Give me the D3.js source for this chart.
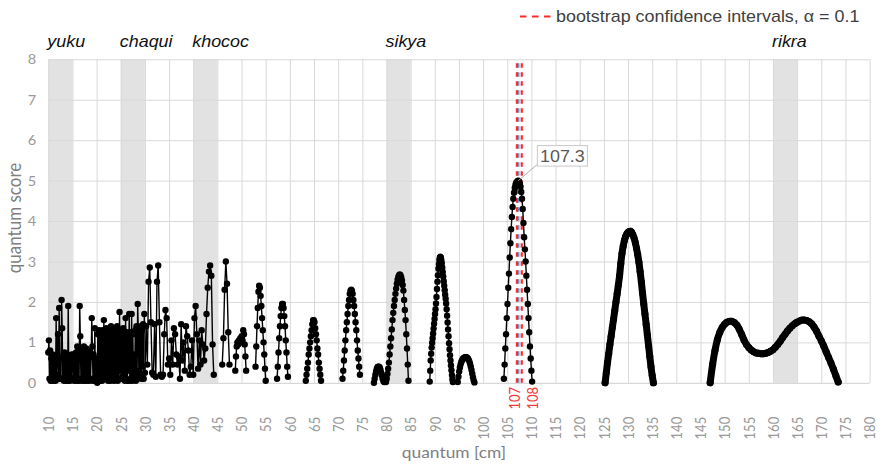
<!DOCTYPE html>
<html>
<head>
<meta charset="utf-8">
<script src="https://cdn.jsdelivr.net/npm/d3@7"></script>
<style>
  body { margin: 0; background: #fff; }
  svg { display: block; }
</style>
</head>
<body>
<svg id="chart" width="883" height="467"></svg>
<script>
// ---- axis ticks ----
const quantumTicks = [10, 15, 20, 25, 30, 35, 40, 45, 50, 55, 60, 65, 70, 75, 80, 85, 90,
                      95, 100, 105, 110, 115, 120, 125, 130, 135, 140, 145, 150, 155, 160,
                      165, 170, 175, 180];
const scoreTicks = [0, 1, 2, 3, 4, 5, 6, 7, 8];

// ---- named quantum ranges (shaded bands) ----
const rangeNames = ["yuku", "chaqui", "khococ", "sikya", "rikra"];
const rangeFrom = [10, 25, 40, 80, 160];
const rangeTo = [15, 30, 45, 85, 165];

// ---- bootstrap confidence interval of the best quantum ----
const ciBounds = [107, 108];
const peakQuantum = 107.3;

// ---- quantum score runs: first quantum, sampling interval, scores ----
const runStart = [10.0, 30.0, 46.0, 48.7, 52.9, 57.35, 63.3, 70.9, 77.4, 79.9, 88.95, 94.75, 104.3, 125.25, 147.0];
const runStep  = [0.125, 0.25, 0.25, 0.15, 0.15, 0.15, 0.15, 0.15, 0.15, 0.15, 0.1, 0.15, 0.15, 0.25, 0.5];

// 10 – 30 cm, one row per centimetre
const scores10 = [
  0.75, 1.05, 0.1, 0.8, 0.05, 0.6, 0.1, 0.7,
  0.05, 0.65, 0.15, 0.55, 0.05, 1.6, 0.2, 0.7,
  1.2, 0.1, 1.85, 0.1, 0.6, 0.1, 2.05, 1.35,
  0.1, 0.65, 0.05, 0.75, 0.1, 0.6, 0.05, 0.7,
  0.05, 1.9, 0.1, 0.65, 0.05, 0.6, 0.1, 0.7,
  0.6, 0.1, 0.7, 0.05, 0.65, 0.15, 0.75, 0.05,
  0.9, 0.1, 0.8, 0.05, 1.9, 1.15, 0.1, 0.85,
  0.05, 0.8, 0.1, 0.9, 0.05, 0.75, 0.1, 0.85,
  0.05, 0.75, 0.1, 0.8, 0.05, 0.7, 0.1, 0.65,
  1.6, 0.9, 0.05, 0.7, 0.1, 1.35, 0.05, 0.6,
  0.3, 0.0, 1.2, 0.1, 1.3, 0.05, 1.15, 0.1,
  1.2, 0.05, 1.3, 0.1, 1.55, 0.1, 1.25, 0.15,
  1.35, 0.1, 1.2, 0.05, 1.3, 0.1, 1.25, 0.05,
  1.4, 0.15, 1.3, 0.1, 1.2, 0.05, 1.35, 0.1,
  1.2, 0.25, 1.4, 0.05, 1.25, 0.1, 1.75, 0.3,
  1.3, 0.1, 1.2, 0.15, 1.35, 0.2, 1.25, 0.05,
  1.6, 0.1, 1.25, 0.05, 1.2, 0.3, 1.7, 0.05,
  1.25, 0.1, 1.7, 0.05, 1.2, 0.15, 0.7, 0.1,
  1.3, 0.05, 1.4, 0.1, 1.95, 1.3, 0.3, 1.25,
  0.2, 1.4, 0.1, 1.3, 0.4, 1.45, 0.1, 1.7
];
// 30 – 44.25 cm, two centimetres per row
const scores30 = [
  0.25, 1.4, 0.45, 2.5, 2.85, 1.5, 0.25, 0.2,
  1.45, 0.15, 2.5, 2.9, 1.5, 0.2, 0.15, 0.2,
  1.2, 1.8, 1.6, 0.45, 0.6, 0.2, 1.05, 0.45,
  1.35, 1.2, 0.7, 0.45, 0.65, 0.1, 1.45, 0.55,
  1.0, 0.3, 1.4, 1.15, 0.8, 0.2, 0.4, 1.05,
  0.2, 1.6, 1.9, 1.2, 0.35, 1.05, 0.45, 1.3,
  0.95, 0.55, 0.85, 1.7, 2.35, 2.75, 2.9, 2.65,
  0.95, 0.2
];
const scores47 = [0.45, 1.1, 2.3, 3.0, 2.45, 1.25, 0.45];
const scores50 = [0.3, 0.65, 0.9, 1.0, 0.95, 1.05, 1.0, 1.1, 1.0, 1.15, 1.05, 1.3, 1.2, 0.95, 0.65, 0.3];
const scores54 = [0.4, 0.9, 1.4, 1.85, 2.25, 2.4, 2.35, 2.15, 1.9, 1.6, 1.3, 1.0, 0.7, 0.35, 0.05];
const scores59 = [0.1, 0.4, 0.75, 1.1, 1.4, 1.65, 1.85, 1.95, 1.95, 1.85, 1.65, 1.4, 1.05, 0.75, 0.4, 0.15];
const scores65 = [0.05, 0.2, 0.35, 0.5, 0.7, 0.85, 1.0, 1.15, 1.3, 1.45, 1.55, 1.55, 1.5, 1.35, 1.2,
                  1.05, 0.85, 0.7, 0.5, 0.35, 0.2, 0.05];
const scores73 = [0.1, 0.3, 0.55, 0.8, 1.05, 1.3, 1.5, 1.7, 1.9, 2.05, 2.2, 2.28, 2.3, 2.28, 2.2,
                  2.05, 1.9, 1.7, 1.5, 1.3, 1.05, 0.8, 0.6, 0.4, 0.2];
const scores79 = [0.0, 0.1, 0.2, 0.28, 0.35, 0.39, 0.4, 0.4, 0.38, 0.33, 0.25, 0.18, 0.1, 0.05, 0.02];
const scores83 = [0.02, 0.1, 0.22, 0.35, 0.5, 0.7, 0.9, 1.1, 1.32, 1.55, 1.73, 1.9, 2.05, 2.2, 2.33,
                  2.45, 2.55, 2.62, 2.66, 2.68, 2.66, 2.61, 2.53, 2.42, 2.28, 2.05, 1.8, 1.55, 1.2,
                  0.85, 0.45, 0.05];
const scores91 = [0.03, 0.3, 0.55, 0.72, 0.87, 0.99, 1.1, 1.22, 1.34, 1.46, 1.58, 1.7, 1.82, 1.96,
                  2.12, 2.32, 2.5, 2.66, 2.82, 2.94, 3.04, 3.1, 3.12, 3.1, 3.04, 2.96, 2.85, 2.74,
                  2.63, 2.51, 2.4, 2.29, 2.18, 2.08, 1.96, 1.82, 1.66, 1.49, 1.32, 1.15, 0.98, 0.83,
                  0.68, 0.55, 0.43, 0.31, 0.19, 0.09, 0.02];
const scores97 = [0.02, 0.15, 0.28, 0.38, 0.46, 0.52, 0.56, 0.59, 0.61, 0.62, 0.63, 0.63, 0.63, 0.62,
                  0.6, 0.57, 0.53, 0.47, 0.4, 0.32, 0.23, 0.14, 0.06, 0.01];
const scores107 = [0.1, 0.45, 0.85, 1.2, 1.6, 1.95, 2.35, 2.7, 3.1, 3.45, 3.8, 4.1, 4.35, 4.55, 4.7,
                   4.82, 4.9, 4.95, 4.97, 4.99, 5.0, 4.98, 4.93, 4.85, 4.72, 4.55, 4.3, 3.95, 3.6,
                   3.3, 3.0, 2.65, 2.3, 1.95, 1.6, 1.25, 0.9, 0.6, 0.3, 0.03];
const scores130 = [0.0, 0.25, 0.5, 0.72, 0.95, 1.15, 1.37, 1.57, 1.78, 2.0, 2.2, 2.42, 2.65, 2.95,
                   3.2, 3.38, 3.52, 3.62, 3.68, 3.72, 3.74, 3.75, 3.72, 3.66, 3.58, 3.47, 3.33,
                   3.17, 2.98, 2.75, 2.5, 2.22, 1.95, 1.7, 1.45, 1.18, 0.92, 0.65, 0.4, 0.18, 0.0];
const scores160 = [0.0, 0.45, 0.8, 1.07, 1.25, 1.37, 1.45, 1.5, 1.52, 1.52, 1.49, 1.43, 1.33, 1.2,
                   1.06, 0.95, 0.87, 0.81, 0.77, 0.74, 0.73, 0.72, 0.72, 0.73, 0.75, 0.78, 0.82,
                   0.88, 0.95, 1.03, 1.12, 1.2, 1.28, 1.35, 1.41, 1.46, 1.5, 1.53, 1.55, 1.55,
                   1.54, 1.51, 1.46, 1.38, 1.28, 1.16, 1.04, 0.91, 0.77, 0.63, 0.49, 0.34, 0.18, 0.02];

const runScores = [scores10, scores30, scores47, scores50, scores54, scores59, scores65, scores73,
                   scores79, scores83, scores91, scores97, scores107, scores130, scores160];

// ---- layout ----
const svg = d3.select("#chart");
const x = d3.scaleLinear().domain([10, 180]).range([48.3, 869.6]);
const y = d3.scaleLinear().domain([0, 8]).range([382.8, 59.3]);
const plotW = x(180) - x(10);
const plotH = y(0) - y(8);
const STRETCH = 1.12;            // text is drawn slightly wide
const tickFont = "Lato, 'Open Sans', sans-serif";
const labelFont = "'Liberation Sans', Arial, sans-serif";

function place(px, py, rot) {
  return `translate(${px},${py}) scale(${STRETCH},1)` + (rot ? ` rotate(${rot})` : "");
}

// shaded ranges
svg.append("g").selectAll("rect")
  .data(rangeNames)
  .join("rect")
  .attr("x", (d, i) => x(rangeFrom[i]))
  .attr("y", y(8))
  .attr("width", (d, i) => x(rangeTo[i]) - x(rangeFrom[i]))
  .attr("height", plotH)
  .attr("fill", "#e2e2e2");

// grid
const gx = svg.append("g")
  .attr("transform", `translate(0,${y(0)})`)
  .call(d3.axisBottom(x).tickValues(quantumTicks).tickSize(-plotH).tickFormat(""));
gx.select(".domain").remove();
gx.selectAll("line").attr("stroke", "#d9d9d9").attr("stroke-width", 1);

const gy = svg.append("g")
  .attr("transform", `translate(${x(10)},0)`)
  .call(d3.axisLeft(y).tickValues(scoreTicks).tickSize(-plotW).tickFormat(""));
gy.select(".domain").remove();
gy.selectAll("line").attr("stroke", (d) => d === 0 ? "#cfcfcf" : "#d9d9d9").attr("stroke-width", 1);

// x tick labels (rotated)
const xl = svg.append("g")
  .attr("transform", `translate(0,${y(0)})`)
  .call(d3.axisBottom(x).tickValues(quantumTicks).tickSize(0).tickFormat(d3.format("d")));
xl.select(".domain").remove();
xl.selectAll("text")
  .attr("x", null).attr("y", null).attr("dy", "0.36em")
  .attr("transform", place(0, 34, -90))
  .attr("text-anchor", "end")
  .attr("font-family", tickFont)
  .attr("font-size", 13)
  .attr("fill", "#9a9a9a");

// y tick labels
const yl = svg.append("g")
  .attr("transform", `translate(${x(10)},0)`)
  .call(d3.axisLeft(y).tickValues(scoreTicks).tickSize(0).tickFormat(d3.format("d")));
yl.select(".domain").remove();
yl.selectAll("text")
  .attr("x", null).attr("dy", "0.35em")
  .attr("transform", place(-12, 0))
  .attr("text-anchor", "end")
  .attr("font-family", tickFont)
  .attr("font-size", 13)
  .attr("fill", "#9a9a9a");

// confidence interval and best-quantum lines
svg.append("line")
  .attr("x1", x(peakQuantum)).attr("x2", x(peakQuantum))
  .attr("y1", y(0)).attr("y2", y(8))
  .attr("stroke", "#5b9bd5").attr("stroke-width", 2.2)
  .attr("stroke-dasharray", "4.5,4.5");
svg.append("g").selectAll("line")
  .data(ciBounds)
  .join("line")
  .attr("x1", (d) => x(d)).attr("x2", (d) => x(d))
  .attr("y1", y(0)).attr("y2", y(8))
  .attr("stroke", "#ff2a2a").attr("stroke-width", 2.2)
  .attr("stroke-dasharray", "4.5,4.5");

// score runs
const runs = runScores.map((scores, i) => ({
  smooth: runStart[i] > 120,
  points: scores.map((s, k) => ({ q: runStart[i] + k * runStep[i], s }))
}));
const line = d3.line().x((d) => x(d.q)).y((d) => y(d.s));
const smoothLine = d3.line().x((d) => x(d.q)).y((d) => y(d.s)).curve(d3.curveCatmullRom);

const gRuns = svg.append("g");
runs.forEach((run) => {
  gRuns.append("path")
    .datum(run.points)
    .attr("d", run.smooth ? smoothLine : line)
    .attr("fill", "none")
    .attr("stroke", "#000")
    .attr("stroke-width", run.smooth ? 7 : 1.4)
    .attr("stroke-linejoin", "round")
    .attr("stroke-linecap", "round");
  gRuns.append("g").selectAll("circle")
    .data(run.points)
    .join("circle")
    .attr("cx", (d) => x(d.q))
    .attr("cy", (d) => y(d.s))
    .attr("r", run.smooth ? 3.5 : 3.2)
    .attr("fill", "#000");
});

// interval bound labels below the axis
svg.append("g").selectAll("text")
  .data(ciBounds)
  .join("text")
  .attr("transform", (d, i) => place(x(d) + (i === 0 ? -2 : 11), 387, -90))
  .attr("dy", "0.36em")
  .attr("text-anchor", "end")
  .attr("font-family", tickFont)
  .attr("font-size", 13)
  .attr("fill", "#f03c3c")
  .text(d3.format("d"));

// peak callout
const peakScore = d3.max(scores107);
const px = x(peakQuantum), py = y(peakScore);
svg.append("line")
  .attr("x1", px).attr("y1", py)
  .attr("x2", px + 21).attr("y2", py - 18)
  .attr("stroke", "#b0b0b0").attr("stroke-width", 1);
svg.append("rect")
  .attr("x", px + 19).attr("y", py - 35)
  .attr("width", 50).attr("height", 20.5)
  .attr("fill", "#fff").attr("stroke", "#c8c8c8").attr("stroke-width", 1);
svg.append("text")
  .attr("transform", place(px + 44, py - 19))
  .attr("text-anchor", "middle")
  .attr("font-family", labelFont)
  .attr("font-size", 16)
  .attr("fill", "#595959")
  .text(d3.format(".1f")(peakQuantum));

// range names
svg.append("g").selectAll("text")
  .data(rangeNames)
  .join("text")
  .attr("transform", (d, i) => place(x(rangeFrom[i]) - 1, 47))
  .attr("font-family", labelFont)
  .attr("font-style", "italic")
  .attr("font-size", 16)
  .attr("fill", "#111")
  .text((d) => d);

// legend
svg.append("line")
  .attr("x1", 520).attr("x2", 551.5).attr("y1", 16.5).attr("y2", 16.5)
  .attr("stroke", "#ff2a2a").attr("stroke-width", 2.2)
  .attr("stroke-dasharray", "6.5,5.5");
svg.append("text")
  .attr("transform", place(556, 22))
  .attr("font-family", labelFont)
  .attr("font-size", 16)
  .attr("fill", "#404040")
  .text("bootstrap confidence intervals, α = 0.1");

// axis titles
svg.append("text")
  .attr("transform", place((x(10) + x(180)) / 2 - 5, 458))
  .attr("text-anchor", "middle")
  .attr("font-family", tickFont)
  .attr("font-size", 15.5)
  .attr("fill", "#7f7f7f")
  .text("quantum [cm]");
svg.append("text")
  .attr("transform", place(21, 218, -90))
  .attr("text-anchor", "middle")
  .attr("font-family", tickFont)
  .attr("font-size", 17)
  .attr("fill", "#7f7f7f")
  .text("quantum score");
</script>
</body>
</html>
